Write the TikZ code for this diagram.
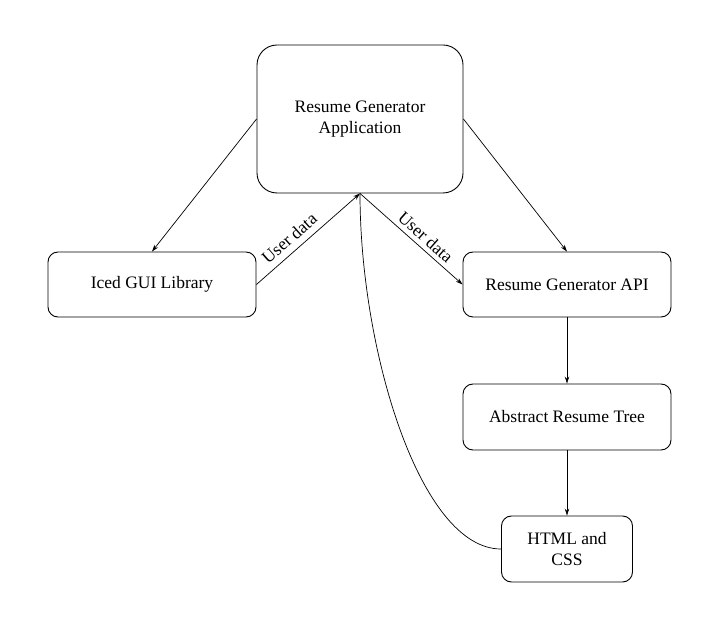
\documentclass[tikz,border=0pt]{standalone}
\usepackage{fontspec}
\setmainfont{Liberation Serif}
\usetikzlibrary{arrows.meta}
\begin{document}
\begin{tikzpicture}[x=1pt,y=-1pt,
  box/.style={draw, line width=0.9pt, rounded corners=10pt, align=center, font=\fontsize{17.5}{21}\selectfont, inner sep=0pt},
  conn/.style={line width=0.7pt, -{Stealth[length=7pt,width=4.5pt]}},
  lbl/.style={font=\fontsize{17.5}{21}\selectfont, inner sep=1.5pt}]
\useasboundingbox (0,0) rectangle (718,617);
\node[box, rounded corners=20pt, minimum width=206pt, minimum height=148pt] (app) at (360,119) {Resume Generator\\Application};
\node[box, minimum width=208pt, minimum height=65pt] (iced) at (152,284.5) {Iced GUI Library};
\node[box, minimum width=208pt, minimum height=65pt] (api) at (567,284.5) {Resume Generator API};
\node[box, minimum width=208pt, minimum height=66pt] (tree) at (567,417) {Abstract Resume Tree};
\node[box, minimum width=131pt, minimum height=66pt] (html) at (567,549) {HTML and\\CSS};
\draw[conn] (app.west) -- (iced.north);
\draw[conn] (app.east) -- (api.north);
\draw[conn] (iced.east) -- node[lbl, sloped, above=5pt, pos=0.4] {User data} (app.south);
\draw[conn] (app.south) -- node[lbl, sloped, above=3pt, pos=0.57] {User data} (api.west);
\draw[conn] (api.south) -- (tree.north);
\draw[conn] (tree.south) -- (html.north);
\draw[line width=0.7pt] (html.west) .. controls (420,549) and (360,350) .. (app.south);
\end{tikzpicture}
\end{document}
